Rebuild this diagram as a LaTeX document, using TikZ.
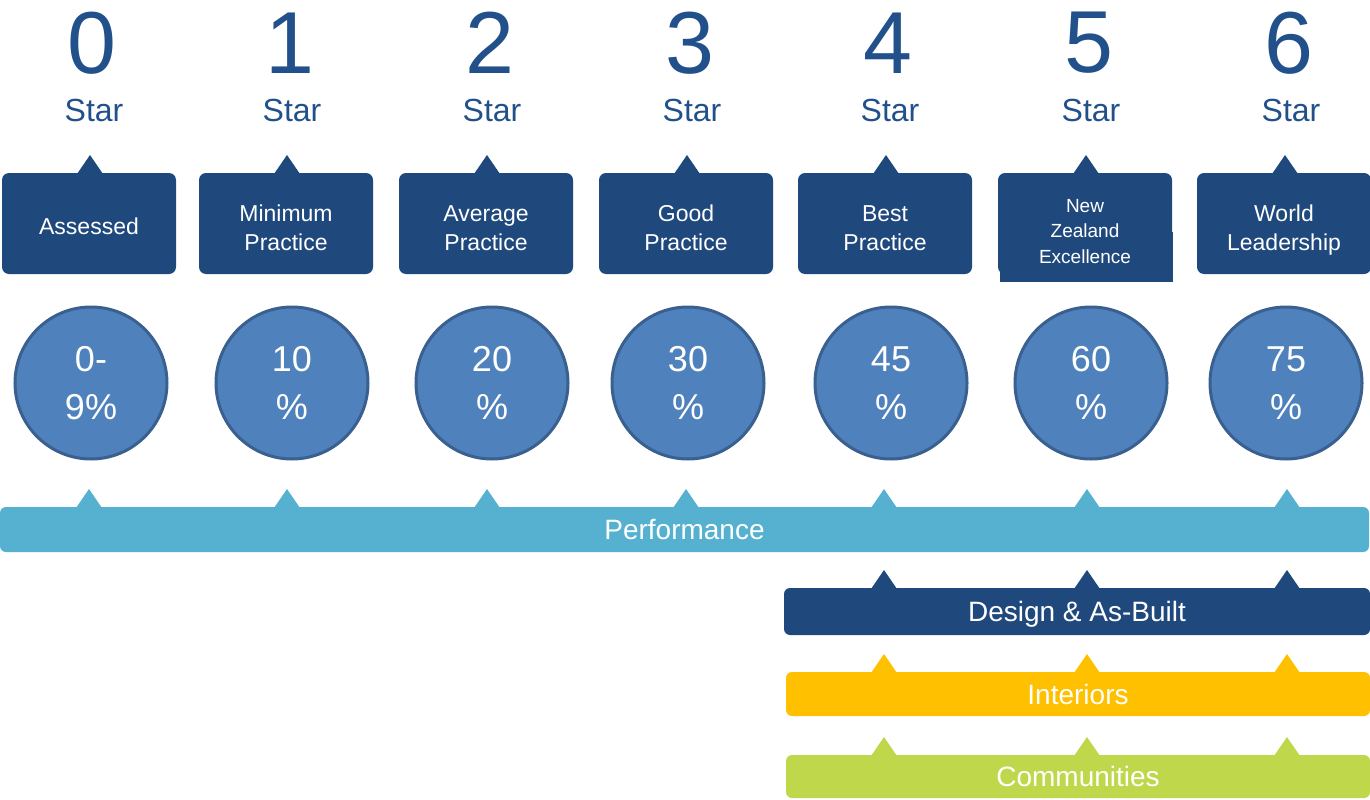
\documentclass[tikz,border=0pt]{standalone}
\usepackage{fontspec}
\setmainfont{Liberation Sans}
\definecolor{navy}{HTML}{1F497D}
\definecolor{navytext}{HTML}{21508A}
\definecolor{circfill}{HTML}{4F81BD}
\definecolor{circline}{HTML}{3A6090}
\definecolor{perfblue}{HTML}{55B1CF}
\definecolor{amber}{HTML}{FFC000}
\definecolor{lime}{HTML}{BFD74B}
\newcommand\pointer[3]{\fill[#3] (#1-13,#2+1) -- (#1,#2-18) -- (#1+13,#2+1) -- cycle;}
\begin{document}
\begin{tikzpicture}[x=1pt,y=-1pt,
  digit/.style={text=navytext, font=\fontsize{88}{88}\selectfont, inner sep=0pt},
  starlbl/.style={text=navytext, font=\fontsize{32}{32}\selectfont, inner sep=0pt},
  starbox/.style={fill=navy, rounded corners=7pt, minimum width=174pt, minimum height=101pt,
    text=white, align=center, font=\fontsize{23}{29}\selectfont, inner sep=0pt,
    text height=53pt, text depth=0pt},
  pct/.style={circle, fill=circfill, draw=circline, line width=3pt, minimum size=152pt,
    text=white, align=center, font=\fontsize{36}{48}\selectfont, inner sep=0pt},
  bar/.style={rounded corners=6pt, text=white, font=\fontsize{28}{28}\selectfont, inner sep=0pt,
    text height=20pt, text depth=0pt}]
\useasboundingbox (0,0) rectangle (1370,800);

% digits and Star labels
\foreach \i/\x in {0/92,1/290,2/490,3/690,4/888,5/1089,6/1289}{
  \node[digit] (d\i) at (\x,43) {\i};
  \node[starlbl] (s\i) at (\x+2,110) {Star};
}

% star boxes
\foreach \i/\x in {0/89,1/286,2/486,3/686,4/885,5/1085,6/1284}{
  \pointer{\x+1}{173}{navy}
}
\fill[navy] (1000,232) rectangle (1173,282);
\node[starbox, text height=21pt] (b0) at (89,223.5) {Assessed};
\node[starbox] (b1) at (286,223.5) {Minimum\\Practice};
\node[starbox] (b2) at (486,223.5) {Average\\Practice};
\node[starbox] (b3) at (686,223.5) {Good\\Practice};
\node[starbox] (b4) at (885,223.5) {Best\\Practice};
\node[starbox, font=\fontsize{19}{25.5}\selectfont, text height=79pt] (b5) at (1085,223.5) {New\\Zealand\\Excellence};
\node[starbox] (b6) at (1284,223.5) {World\\Leadership};

% percentage circles
\node[pct] (c0) at (91,383) {0-\\9\%};
\node[pct] (c1) at (292,383) {10\\\%};
\node[pct] (c2) at (492,383) {20\\\%};
\node[pct] (c3) at (688,383) {30\\\%};
\node[pct] (c4) at (891,383) {45\\\%};
\node[pct] (c5) at (1091,383) {60\\\%};
\node[pct] (c6) at (1286,383) {75\\\%};

% performance bar
\foreach \x in {89,287,487,686,884,1087,1287}{\pointer{\x}{507}{perfblue}}
\node[bar, fill=perfblue, minimum width=1369pt, minimum height=45pt] (perf) at (684.5,529.5) {Performance};

% lower bars
\foreach \x in {884,1087,1287}{
  \pointer{\x}{588}{navy}
  \pointer{\x}{672}{amber}
  \pointer{\x}{755}{lime}
}
\node[bar, fill=navy, minimum width=586pt, minimum height=47pt] (design) at (1077,611.5) {Design \& As-Built};
\node[bar, fill=amber, minimum width=584pt, minimum height=44pt] (inter) at (1078,694) {Interiors};
\node[bar, fill=lime, minimum width=584pt, minimum height=43pt] (comm) at (1078,776.5) {Communities};
\end{tikzpicture}
\end{document}
